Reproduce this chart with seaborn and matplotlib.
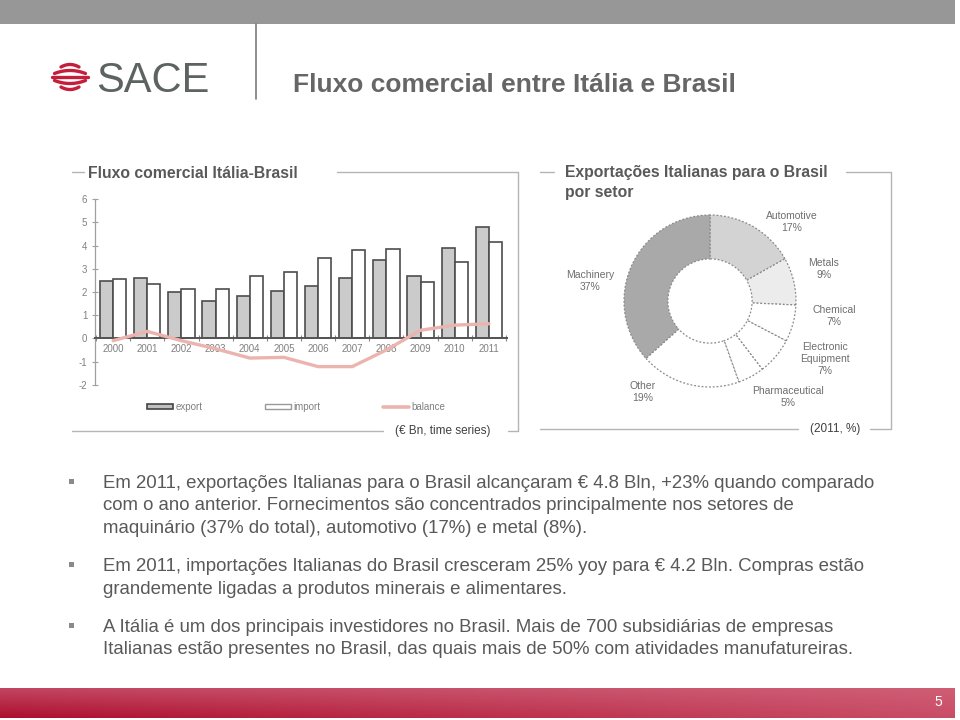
import numpy as np
import pandas as pd
import matplotlib
matplotlib.use("Agg")
import matplotlib.pyplot as plt
import seaborn as sns
from matplotlib.lines import Line2D
from matplotlib.patches import Patch, Rectangle

# ---------------- data ----------------
years = ["2000", "2001", "2002", "2003", "2004", "2005",
         "2006", "2007", "2008", "2009", "2010", "2011"]
export = [2.48, 2.61, 2.00, 1.61, 1.82, 2.03, 2.25, 2.61, 3.39, 2.70, 3.88, 4.80]
imports = [2.58, 2.35, 2.15, 2.15, 2.68, 2.88, 3.45, 3.82, 3.85, 2.44, 3.30, 4.17]
balance = [-0.10, 0.30, -0.10, -0.45, -0.85, -0.82, -1.22, -1.22, -0.50, 0.35, 0.57, 0.63]
y_ticks = [-2, -1, 0, 1, 2, 3, 4, 5, 6]
series_names = ["export", "import", "balance"]

sectors = ["Automotive", "Metals", "Chemical", "Electronic\nEquipment",
           "Pharmaceutical", "Other", "Machinery"]
shares = [17, 9, 7, 7, 5, 19, 37]
sector_colors = ["#d3d3d3", "#ececec", "#ffffff", "#ffffff", "#ffffff", "#ffffff", "#a9a9a9"]

title = "Fluxo comercial entre Itália e Brasil"
left_title = "Fluxo comercial Itália-Brasil"
right_title = ["Exportações Italianas para o Brasil", "por setor"]
left_note = "(€ Bn, time series)"
right_note = "(2011, %)"
bullets = [
    ["Em 2011, exportações Italianas para o Brasil alcançaram € 4.8 Bln, +23% quando comparado",
     "com o ano anterior. Fornecimentos são concentrados principalmente nos setores de",
     "maquinário (37% do total), automotivo (17%) e metal (8%)."],
    ["Em 2011, importações Italianas do Brasil cresceram 25% yoy para € 4.2 Bln. Compras estão",
     "grandemente ligadas a produtos minerais e alimentares."],
    ["A Itália é um dos principais investidores no Brasil. Mais de 700 subsidiárias de empresas",
     "Italianas estão presentes no Brasil, das quais mais de 50% com atividades manufatureiras."],
]

# ---------------- setup ----------------
sns.set_theme(style="ticks")
plt.rcParams['font.family'] = ['Liberation Sans', 'DejaVu Sans']
plt.rcParams['axes.unicode_minus'] = False

W, H = 960, 720
fig = plt.figure(figsize=(9.6, 7.2), dpi=100)
fig.patch.set_facecolor("white")


def fx(x):
    return x / W


def fy(y):
    return 1 - y / H


bg = fig.add_axes([0, 0, 1, 1], zorder=0)
bg.axis("off")

# header band and separator
bg.add_patch(Rectangle((0, 0), 955, 24, color="#979797", lw=0))
bg.plot([256, 256], [24, 99], color="#7a7a7a", lw=1.2)

# logo symbol
cx, cy = 70, 77
for d, w, c in [(-12.5, 9, 2.5), (-6.5, 15.5, 3.0), (0, 18, 0.0), (6.5, 15.5, -3.0), (12.5, 9, -2.5)]:
    xs = np.linspace(-w, w, 40)
    ys = d + c * (xs / w) ** 2
    bg.plot(cx + xs, cy + ys, color="#c41e3a", lw=2.4, solid_capstyle="round")
bg.text(96, 92, "SACE", fontsize=30, color="#5d6361", va="baseline", ha="left")

# main title
bg.text(293, 92, title, fontsize=19, fontweight="bold",
        family=["Liberation Sans Narrow", "Liberation Sans", "DejaVu Sans"],
        color="#666666", va="baseline", ha="left")

# panel frames
fc = "#b5b5b5"
bg.plot([72, 84], [172, 172], color=fc, lw=1)
bg.plot([337, 518, 518], [172, 172, 431], color=fc, lw=1)
bg.plot([72, 383], [431, 431], color=fc, lw=1)
bg.plot([508, 518], [431, 431], color=fc, lw=1)
bg.plot([540, 554], [172, 172], color=fc, lw=1)
bg.plot([846, 891, 891], [172, 172, 429], color=fc, lw=1)
bg.plot([540, 798], [429, 429], color=fc, lw=1)
bg.plot([870, 891], [429, 429], color=fc, lw=1)

bg.text(88, 177.5, left_title, fontsize=11.3, fontweight="bold", color="#595959", va="baseline")
bg.text(565, 177.5, right_title[0], fontsize=11.3, fontweight="bold", color="#595959", va="baseline")
bg.text(565, 196.5, right_title[1], fontsize=11.3, fontweight="bold", color="#595959", va="baseline")
bg.text(395, 431, left_note, fontsize=8.5, color="#404040", va="center", ha="left")
bg.text(810, 429, right_note, fontsize=8.5, color="#404040", va="center", ha="left")

# bullets
baselines = [[488, 510.5, 533], [571, 593.5], [632, 654.5]]
for lines, ys in zip(bullets, baselines):
    bg.add_patch(Rectangle((68.5, ys[0] - 9), 5, 5, color="#8a8a8a", lw=0))
    for line, yb in zip(lines, ys):
        bg.text(103, yb, line, fontsize=13.4, color="#595959", va="baseline", ha="left")

# footer gradient
nx, ny = 200, 30
t = np.linspace(0, 1, nx)[None, :, None]
s = np.linspace(0, 1, ny)[:, None, None]
TL = np.array([0.76, 0.27, 0.38]); TR = np.array([0.81, 0.37, 0.46])
BL = np.array([0.68, 0.06, 0.18]); BR = np.array([0.79, 0.30, 0.40])
grad = (1 - s) * ((1 - t) * TL + t * TR) + s * ((1 - t) * BL + t * BR)
bg.imshow(grad, extent=[0, 955, 718, 688], aspect="auto", zorder=1)
bg.text(938, 702, "5", fontsize=10, color="white", ha="center", va="center", zorder=2)

bg.set_xlim(0, W)
bg.set_ylim(H, 0)

# ---------------- bar chart ----------------
ax = fig.add_axes([fx(95), fy(384.7), (507 - 95) / W, (384.7 - 199.3) / H], zorder=2)
ax.patch.set_alpha(0)
df = pd.DataFrame({"year": years * 2,
                   "series": [series_names[0]] * len(years) + [series_names[1]] * len(years),
                   "value": export + imports})
sns.barplot(data=df, x="year", y="value", hue="series",
            palette={series_names[0]: "#cbcbcb", series_names[1]: "#ffffff"},
            edgecolor="#4d4d4d", linewidth=1.2, width=0.77, saturation=1,
            legend=False, ax=ax, zorder=2)
sns.lineplot(x=years, y=balance, color="#ecb4ae", lw=2.4, ax=ax, zorder=3, sort=False)

ax.set_ylim(-2, 6)
ax.set_xlim(-0.53, 11.53)
ax.set_yticks(y_ticks)
ax.set_xlabel("")
ax.set_ylabel("")
for sp in ["top", "right"]:
    ax.spines[sp].set_visible(False)
ax.spines["bottom"].set_position(("data", 0))
ax.spines["bottom"].set_color("#555555")
ax.spines["bottom"].set_linewidth(1.4)
ax.spines["bottom"].set_zorder(2.5)
ax.spines["left"].set_color("#a0a0a0")
ax.spines["left"].set_linewidth(0.9)
ax.tick_params(axis="y", direction="inout", length=5, width=0.8, color="#a0a0a0",
               labelsize=7, labelcolor="#808080", pad=3)
ax.tick_params(axis="x", which="major", length=0, labelsize=7, labelcolor="#808080", pad=4)
ax.set_xticks(np.arange(-0.5, 12, 1), minor=True)
ax.tick_params(axis="x", which="minor", direction="inout", length=5, width=0.8, color="#888888")

handles = [Patch(facecolor="#c0c0c0", edgecolor="#444444", lw=1.2),
           Patch(facecolor="white", edgecolor="#999999", lw=1.0),
           Line2D([0], [0], color="#ecb4ae", lw=2.6)]
fig.legend(handles, series_names, loc="center", bbox_to_anchor=(fx(296), fy(407)),
           ncol=3, frameon=False, fontsize=7, labelcolor="#808080",
           handlelength=2.7, handleheight=0.45, handletextpad=0.25, columnspacing=6.4)

# ---------------- donut ----------------
axp = fig.add_axes([fx(610), fy(401), 200 / W, 200 / H], zorder=2)
axp.pie(shares, startangle=90, counterclock=False, colors=sector_colors,
        wedgeprops=dict(width=0.51, edgecolor="#8a8a8a", linewidth=0.9,
                        linestyle=(0, (1.5, 1.5))))
axp.set_xlim(-1.163, 1.163)
axp.set_ylim(-1.163, 1.163)
axp.set_aspect("equal")

label_pos = {"Automotive": (792, 222), "Metals": (824, 269), "Chemical": (834, 316),
             "Electronic\nEquipment": (825, 359), "Pharmaceutical": (788, 397),
             "Other": (643, 392), "Machinery": (590, 281)}
for name, val in zip(sectors, shares):
    x, y = label_pos[name]
    bg.text(x, y, f"{name}\n{val}%", fontsize=7.5, color="#6e6e6e",
            ha="center", va="center", linespacing=1.2)

fig.savefig("out.png", dpi=100)
